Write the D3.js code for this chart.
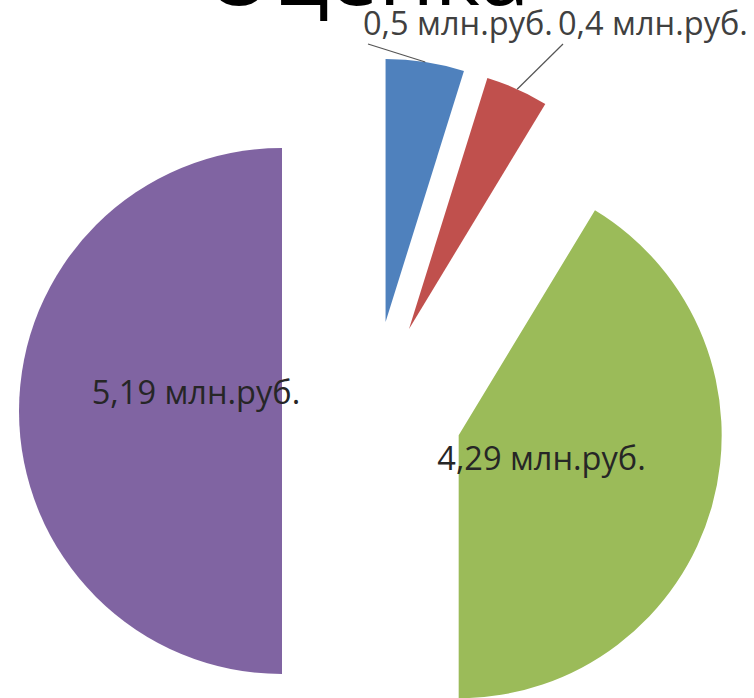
<!DOCTYPE html>
<html>
<head>
<meta charset="utf-8">
<script src="https://cdn.jsdelivr.net/npm/d3@7"></script>
<style>
  body { margin: 0; background: #fff; }
  svg { display: block; }
</style>
</head>
<body>
<svg id="chart" width="754" height="698"></svg>
<script>
// data
let categories = ["A", "B", "C", "D"];
let values = [0.5, 0.4, 4.29, 5.19];
let labels = ["0,5 млн.руб.", "0,4 млн.руб.", "4,29 млн.руб.", "5,19 млн.руб."];
let colors = ["#4f81bd", "#c0504d", "#9bbb59", "#8064a2"];
let title = "Оценка";

let svg = d3.select("#chart");
let cx = 372, cy = 411;
let radius = 263;
let explode = 90;
let fontFam = "'Open Sans', 'DejaVu Sans', sans-serif";

let pie = d3.pie().sort(null).value(d => d)(values);
let arc = d3.arc().innerRadius(0).outerRadius(radius);

// offset of each slice along its middle angle
function shift(d) {
  let a = (d.startAngle + d.endAngle) / 2;
  return [Math.sin(a) * explode, -Math.cos(a) * explode];
}
function onArc(d, r) {
  let a = (d.startAngle + d.endAngle) / 2;
  let s = shift(d);
  return [cx + s[0] + Math.sin(a) * r, cy + s[1] - Math.cos(a) * r];
}

let g = svg.append("g").attr("transform", "translate(" + cx + "," + cy + ")");

g.selectAll("path.slice")
  .data(pie)
  .enter()
  .append("path")
  .attr("class", "slice")
  .attr("d", arc)
  .attr("transform", d => "translate(" + shift(d) + ")")
  .style("fill", (d, i) => colors[i]);

// title, cut by the top edge
let t = svg.append("text")
  .attr("x", 367)
  .attr("y", 5)
  .attr("text-anchor", "middle")
  .style("font-family", fontFam)
  .style("font-size", 80)
  .style("fill", "#000")
  .text(title);
let tw = t.node().getComputedTextLength();
t.style("font-size", 80 * 325 / tw);

// fit label font so that "0,5 млн.руб." is about 190px wide
let probe = svg.append("text").style("font-family", fontFam).style("font-size", 30).text(labels[0]);
let labelSize = 30 * 190 / probe.node().getComputedTextLength();
probe.remove();

// small slices: labels at the top with leader lines
let smallSlices = [pie[0], pie[1]];
let smallPos = [[363, 35], [558, 35]];
smallSlices.forEach(function(d, i) {
  let p = onArc(d, radius);
  svg.append("line")
    .attr("x1", p[0]).attr("y1", p[1])
    .attr("x2", smallPos[i][0] + 5).attr("y2", smallPos[i][1] + 9)
    .style("stroke", "#555")
    .style("stroke-width", 1.2);
  svg.append("text")
    .attr("x", smallPos[i][0])
    .attr("y", smallPos[i][1])
    .style("font-family", fontFam)
    .style("font-size", labelSize)
    .style("fill", "#404040")
    .text(labels[d.index]);
});

// big slices: labels inside
let bigSlices = [pie[2], pie[3]];
let nudge = [[0, 0], [0, -18]];
bigSlices.forEach(function(d, i) {
  let p = onArc(d, 86);
  svg.append("text")
    .attr("x", p[0] + nudge[i][0])
    .attr("y", p[1] + nudge[i][1])
    .attr("dy", "0.35em")
    .attr("text-anchor", "middle")
    .style("font-family", fontFam)
    .style("font-size", labelSize)
    .style("fill", "#262626")
    .text(labels[d.index]);
});
</script>
</body>
</html>
